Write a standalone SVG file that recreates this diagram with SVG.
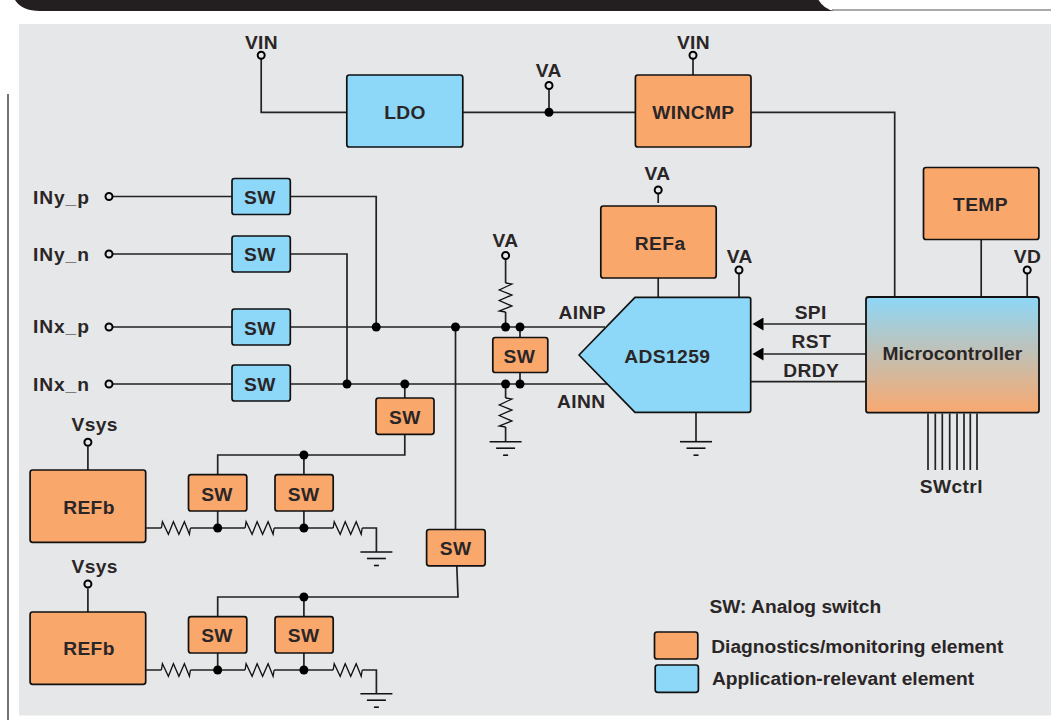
<svg xmlns="http://www.w3.org/2000/svg" xmlns:xlink="http://www.w3.org/1999/xlink" width="1051" height="720" viewBox="0 0 1051 720">
<style>
text{font-family:"Liberation Sans",Arial,sans-serif;font-weight:bold;font-size:19.2px;fill:#2a2627;text-anchor:middle;letter-spacing:.4px}
text.l{text-anchor:start}
text.n{letter-spacing:.9px}
text.z{letter-spacing:0}
.o{fill:#faa76c;stroke:#111;stroke-width:1.7}
.b{fill:#8dd7f8;stroke:#111;stroke-width:1.7}
.w{fill:none;stroke:#222;stroke-width:1.7}
.r{fill:none;stroke:#111;stroke-width:1.3}
.t{fill:#e6e7e8;stroke:#000;stroke-width:2}
.d{fill:#000}
.g{fill:none;stroke:#111;stroke-width:1.6}
</style>
<defs>
<linearGradient id="mc" x1="0" y1="0" x2="0" y2="1"><stop offset="0" stop-color="#8dd7f8"/><stop offset="1" stop-color="#f9a86e"/></linearGradient>
<path id="res" class="r" d="M0,0L1,-6.3L7,6.3L12,-6.3L17.5,6.3L23,-6.3L28,6.3L29,0"/>
<g id="gnd"><path class="g" d="M-16,0H16"/><path class="g" stroke-width="2" d="M-9.5,6.5H9.5"/><path class="g" d="M-2.500,13.500H2.500"/></g>
<marker id="arr" markerUnits="userSpaceOnUse" markerWidth="12" markerHeight="13" refX="0" refY="6.5" orient="auto"><path d="M0,0L11,6.5L0,13Z" fill="#000"/></marker>
</defs>
<rect width="1051" height="720" fill="#fff"/>
<path d="M15,0Q22,11 40,11H834Q824,9 818.500,0Z" fill="#231f20"/>
<path d="M832,10H1051" stroke="#555" stroke-width="1" fill="none"/>
<path d="M8,94V720" stroke="#444" stroke-width="1.5" fill="none"/>
<rect x="19" y="24" width="1032" height="691.500" fill="#e6e7e8"/>
<g id="connectors">
<path class="w" d="M261.200,59V112.300H346.600M463,112.300H635.500M549,89V112.300M693,59V75M751,112.300H894.700V297"/>
<path class="w" d="M112.500,196.500H232M290.300,196.500H376.200V327M112.500,254H232M290.300,254H347V384M112.500,327H232M290.300,327H605M112.500,384H232M290.300,384H607"/>
<path class="w" d="M455.500,327V529.300M404.800,384V398M404.800,434.300V455H217.700V474.700M303.900,455V474.700M456.800,565.700L458,597H217.700V616.700M303.900,597V616.700"/>
<path class="w" d="M520,327V337.300M520,372.300V384"/>
<path class="w" d="M505.600,259V283M505.600,312V327M505.600,384V398M505.600,427V442M696,412.500V442"/>
<path class="w" d="M658.200,194V203M658.200,278V297M739,274V297M1027.200,274V297M981.200,240V297"/>
<path class="w" d="M866,324H763.500" marker-end="url(#arr)"/>
<path class="w" d="M866,354H763.500" marker-end="url(#arr)"/>
<path class="w" d="M750.700,381.700H865"/>
<path class="w" d="M928,413.500V470M935.300,413.500V470M942.300,413.500V470M949.700,413.500V470M957,413.500V470M964,413.500V470M970.300,413.500V470M977,413.500V470"/>
<path class="w" d="M145.700,528H161.400M190.400,528H245.100M274.100,528H333.200M362.200,528H376.400V552M217.700,511V528M303.900,511V528"/>
<path class="w" d="M145.700,670H161.400M190.400,670H245.100M274.100,670H333.200M362.200,670H376.400V694M217.700,653V670M303.900,653V670"/>
<path class="w" d="M87.900,446.500V470M87.900,588.500V612"/>
<use xlink:href="#res" href="#res" transform="translate(505.600,283) rotate(90)"/>
<use xlink:href="#res" href="#res" transform="translate(505.600,398) rotate(90)"/>
<use href="#res" xlink:href="#res" x="161.400" y="528"/>
<use href="#res" xlink:href="#res" x="245.100" y="528"/>
<use href="#res" xlink:href="#res" x="333.200" y="528"/>
<use href="#res" xlink:href="#res" x="161.400" y="670"/>
<use href="#res" xlink:href="#res" x="245.100" y="670"/>
<use href="#res" xlink:href="#res" x="333.200" y="670"/>
<use href="#gnd" xlink:href="#gnd" x="505.600" y="441.700"/>
<use href="#gnd" xlink:href="#gnd" x="696" y="441.700"/>
<use href="#gnd" xlink:href="#gnd" x="376.400" y="552"/>
<use href="#gnd" xlink:href="#gnd" x="376.400" y="693.700"/>
<g class="d">
<circle cx="549" cy="112.300" r="4.500"/><circle cx="376.200" cy="327" r="4.500"/><circle cx="455.500" cy="327" r="4.500"/><circle cx="505.600" cy="327" r="4.500"/><circle cx="520" cy="327" r="4.500"/>
<circle cx="347" cy="384" r="4.500"/><circle cx="404.800" cy="384" r="4.500"/><circle cx="505.600" cy="384" r="4.500"/><circle cx="520" cy="384" r="4.500"/>
<circle cx="303.900" cy="455" r="4.500"/><circle cx="217.700" cy="528" r="4.500"/><circle cx="303.900" cy="528" r="4.500"/>
<circle cx="303.900" cy="597" r="4.500"/><circle cx="217.700" cy="670" r="4.500"/><circle cx="303.900" cy="670" r="4.500"/>
</g>
<g>
<circle class="t" cx="261.200" cy="55.300" r="3.500"/><circle class="t" cx="693" cy="55.300" r="3.500"/><circle class="t" cx="549" cy="85.500" r="3.500"/>
<circle class="t" cx="658.200" cy="190" r="3.500"/><circle class="t" cx="739" cy="270" r="3.500"/><circle class="t" cx="1027.200" cy="270" r="3.500"/><circle class="t" cx="505.600" cy="255.500" r="3.500"/>
<circle class="t" cx="109" cy="196.500" r="3.500"/><circle class="t" cx="109" cy="254" r="3.500"/><circle class="t" cx="109" cy="327" r="3.500"/><circle class="t" cx="109" cy="384" r="3.500"/>
<circle class="t" cx="87.900" cy="442.300" r="3.500"/><circle class="t" cx="87.900" cy="584" r="3.500"/>
</g>
</g>
<g id="ldo"><rect class="b" x="346.800" y="75" width="116" height="72" rx="2.500"/><text x="405" y="119">LDO</text></g>
<g id="wincmp"><rect class="o" x="635.400" y="75" width="115.600" height="72" rx="2.500"/><text x="693.400" y="119">WINCMP</text></g>
<g id="refa"><rect class="o" x="600.800" y="206" width="115.400" height="72" rx="2.500"/><text x="660.200" y="250">REFa</text></g>
<g id="temp"><rect class="o" x="923.500" y="167.500" width="115.400" height="72" rx="2.500"/><text x="980.500" y="210.700">TEMP</text></g>
<g id="adc"><path class="b" stroke-linejoin="round" d="M635,297.300H748.700Q750.700,297.300 750.700,299.300V410.300Q750.700,412.300 748.700,412.300H635L579,355Z"/><text x="667.300" y="362.700">ADS1259</text></g>
<g id="mcu"><rect x="866" y="297" width="173" height="115.700" rx="2.500" fill="url(#mc)" stroke="#111" stroke-width="1.800"/><text class="z" x="952.300" y="360">Microcontroller</text></g>
<g id="sw1"><rect class="b" x="232" y="178.500" width="58.300" height="36" rx="2.500"/><text x="259.800" y="204">SW</text></g>
<g id="sw2"><rect class="b" x="232" y="236" width="58.300" height="36" rx="2.500"/><text x="259.800" y="261">SW</text></g>
<g id="sw3"><rect class="b" x="232" y="309" width="58.300" height="36" rx="2.500"/><text x="259.800" y="334.700">SW</text></g>
<g id="sw4"><rect class="b" x="232" y="365" width="58.300" height="36" rx="2.500"/><text x="259.800" y="390.700">SW</text></g>
<g id="sw5"><rect class="o" x="492.800" y="337.500" width="55" height="35" rx="2.500"/><text x="519.300" y="362.700">SW</text></g>
<g id="sw6"><rect class="o" x="376" y="398" width="58" height="36.300" rx="2.500"/><text x="404.800" y="424">SW</text></g>
<g id="sw7"><rect class="o" x="188.500" y="474.700" width="58.300" height="36.300" rx="2.500"/><text x="217" y="501">SW</text></g>
<g id="sw8"><rect class="o" x="275" y="474.700" width="58.200" height="36.300" rx="2.500"/><text x="303.700" y="501">SW</text></g>
<g id="sw9"><rect class="o" x="426.600" y="529.500" width="58.600" height="36.300" rx="2.500"/><text x="455.700" y="555">SW</text></g>
<g id="sw10"><rect class="o" x="188.500" y="616.700" width="58.300" height="36.300" rx="2.500"/><text x="217" y="642">SW</text></g>
<g id="sw11"><rect class="o" x="275" y="616.700" width="58.200" height="36.300" rx="2.500"/><text x="303.700" y="642">SW</text></g>
<g id="refb1"><rect class="o" x="30.100" y="470" width="115.600" height="72.300" rx="2.500"/><text x="89" y="514.300">REFb</text></g>
<g id="refb2"><rect class="o" x="30.100" y="612" width="115.600" height="72.300" rx="2.500"/><text x="89" y="655.300">REFb</text></g>
<g id="labels">
<text x="261.500" y="49">VIN</text><text x="693.500" y="49">VIN</text><text x="548.800" y="76.700">VA</text><text x="657.500" y="180">VA</text><text x="739.700" y="263.300">VA</text><text x="1027.500" y="263.300">VD</text><text x="505.500" y="247">VA</text>
<text class="l n" x="33" y="204">INy_p</text><text class="l n" x="33" y="260.700">INy_n</text><text class="l n" x="33" y="332.700">INx_p</text><text class="l n" x="33" y="390.700">INx_n</text>
<text x="94.700" y="430.700">Vsys</text><text x="94.700" y="572.700">Vsys</text>
<text x="582.300" y="319.300">AINP</text><text x="581.300" y="408.300">AINN</text>
<text x="810.700" y="318.700">SPI</text><text x="811.300" y="348">RST</text><text x="811.300" y="376.700">DRDY</text><text x="951.300" y="493.300">SWctrl</text>
</g>
<g id="legend">
<text class="l z" x="709.500" y="613.300">SW: Analog switch</text>
<rect class="o" x="654.500" y="632" width="43.300" height="27" rx="2.500"/><text class="l z" x="711.200" y="653">Diagnostics/monitoring element</text>
<rect class="b" x="655.200" y="665" width="43.200" height="27.300" rx="2.500"/><text class="l z" x="711.900" y="685.300">Application-relevant element</text>
</g>
</svg>
